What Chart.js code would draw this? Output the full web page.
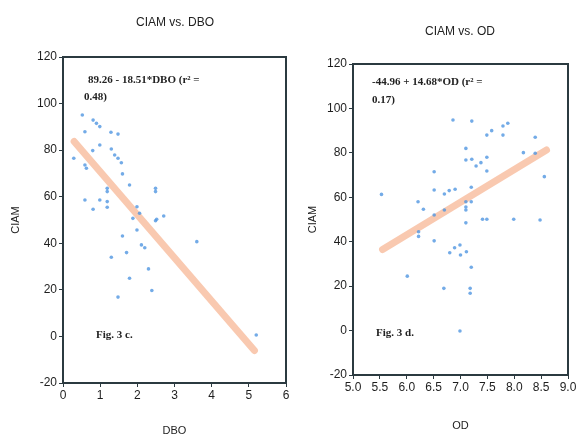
<!DOCTYPE html>
<html>
<head>
<meta charset="utf-8">
<script src="https://cdn.jsdelivr.net/npm/chart.js@4.4.1/dist/chart.umd.min.js"></script>
<style>
  body { margin: 0; background: #fff; }
  #wrap { position: relative; width: 577px; height: 439px; overflow: hidden; }
  canvas { position: absolute; top: 0; }
</style>
</head>
<body>
<div id="wrap">
  <canvas id="dbo" width="290" height="439" style="left:0"></canvas>
  <canvas id="od" width="287" height="439" style="left:290px"></canvas>
</div>
<script>
// CIAM against DBO
var dboX = [0.52, 0.81, 0.90, 0.99, 0.59, 1.29, 1.48, 0.99, 0.80, 1.30, 1.39, 1.48, 1.57, 0.29, 0.59,
  0.63, 1.60, 1.79, 1.19, 1.19, 2.49, 2.49, 0.59, 0.99, 1.19, 1.19, 0.81, 1.99, 2.06, 1.88, 2.49, 2.52,
  2.71, 1.99, 1.60, 2.11, 2.20, 3.60, 1.30, 1.71, 2.30, 1.79, 2.39, 1.48, 5.20];
var dboCiam = [95.1, 92.9, 91.5, 90.1, 87.9, 87.7, 86.9, 82.2, 79.8, 80.5, 77.9, 76.5, 74.6, 76.5, 73.6,
  72.2, 69.8, 65.0, 63.6, 62.2, 63.6, 62.2, 58.6, 58.6, 57.9, 55.5, 54.6, 55.7, 52.9, 50.7, 49.7, 50.3,
  51.7, 45.7, 43.1, 39.3, 38.1, 40.7, 34.0, 36.0, 29.0, 25.0, 19.7, 16.9, 0.6];

// CIAM against OD
var odX = [6.86, 7.21, 7.49, 7.58, 7.79, 7.79, 7.88, 8.39, 7.10, 8.17, 8.39, 7.10, 7.21, 7.29, 7.38,
  7.49, 7.49, 6.51, 8.56, 5.53, 6.51, 6.70, 6.79, 6.90, 7.20, 6.21, 6.31, 6.51, 6.70, 7.10, 7.10, 7.10,
  7.20, 7.10, 7.41, 7.49, 7.99, 8.48, 6.22, 6.22, 6.51, 6.80, 6.89, 6.99, 7.00, 7.11, 7.20, 6.01, 6.69,
  7.18, 7.18, 6.99];
var odCiam = [94.8, 94.3, 88.0, 90.0, 88.0, 92.1, 93.3, 87.0, 82.0, 80.1, 79.8, 76.8, 77.1, 74.1, 75.6,
  78.0, 71.8, 71.5, 69.3, 61.3, 63.3, 61.5, 63.0, 63.6, 64.5, 58.0, 54.6, 52.0, 54.3, 58.0, 55.6, 54.3,
  58.0, 48.5, 50.1, 50.1, 50.1, 49.8, 44.5, 42.4, 40.4, 35.0, 37.3, 38.5, 34.0, 35.5, 28.5, 24.5, 19.0,
  19.0, 16.8, -0.2];

// fitted lines: intercept, slope, x range
var dboFit = [89.26, -18.51];
var dboFitRange = [0.3, 5.15];
var odFit = [-44.96, 14.68];
var odFitRange = [5.55, 8.6];

var dboTicks = [0, 1, 2, 3, 4, 5, 6];
var odTicks = [5.0, 5.5, 6.0, 6.5, 7.0, 7.5, 8.0, 8.5, 9.0];
var ciamTicks = [-20, 0, 20, 40, 60, 80, 100, 120];

var ink = '#2b3a40';

function fitLine(fit, range) {
  return range.map(function(x) { return { x: x, y: fit[0] + fit[1] * x }; });
}

function points(xs, ys) {
  return xs.map(function(x, i) { return { x: x, y: ys[i] }; });
}

// frame round the plot and free text
var notesPlugin = {
  id: 'notes',
  afterDraw: function(chart, args, opts) {
    var ctx = chart.ctx, a = chart.chartArea;
    ctx.save();
    ctx.strokeStyle = ink;
    ctx.lineWidth = 2;
    ctx.strokeRect(a.left, a.top, a.right - a.left, a.bottom - a.top);
    (opts.items || []).forEach(function(t) {
      ctx.font = t.font;
      ctx.fillStyle = t.color || '#222';
      ctx.textAlign = t.align || 'left';
      ctx.textBaseline = 'middle';
      ctx.fillText(t.text, t.x, t.y);
    });
    ctx.restore();
  }
};

function makeChart(id, cfg) {
  return new Chart(document.getElementById(id), {
    type: 'scatter',
    data: {
      datasets: [{
        data: points(cfg.xs, cfg.ys),
        backgroundColor: 'rgba(80,150,225,0.8)',
        borderWidth: 0,
        pointRadius: 1.8,
        order: 1
      }, {
        type: 'line',
        data: fitLine(cfg.fit, cfg.range),
        borderColor: 'rgba(247,178,142,0.7)',
        borderWidth: 7,
        borderCapStyle: 'round',
        pointRadius: 0,
        order: 2
      }]
    },
    options: {
      responsive: false,
      animation: false,
      layout: { padding: cfg.padding },
      plugins: {
        legend: { display: false },
        tooltip: { enabled: false },
        notes: { items: cfg.notes }
      },
      scales: {
        x: {
          type: 'linear',
          min: cfg.xTicks[0],
          max: cfg.xTicks[cfg.xTicks.length - 1],
          afterBuildTicks: function(s) { s.ticks = cfg.xTicks.map(function(v) { return { value: v }; }); },
          afterFit: function(s) { s.height = cfg.xHeight; s.paddingLeft = 0; s.paddingRight = 0; },
          border: { display: false },
          grid: { drawOnChartArea: false, color: ink, tickLength: 4 },
          ticks: {
            padding: 1,
            color: '#1e1e1e',
            font: { family: 'Liberation Sans', size: 12 },
            maxRotation: 0,
            autoSkip: false,
            callback: cfg.xFormat
          },
          title: {
            display: true,
            text: cfg.xTitle,
            color: '#222',
            font: { family: 'Liberation Sans', size: 11 },
            padding: { top: 0, bottom: cfg.xTitlePad }
          }
        },
        y: {
          min: -20,
          max: 120,
          afterBuildTicks: function(s) { s.ticks = ciamTicks.map(function(v) { return { value: v }; }); },
          afterFit: function(s) { s.width = 63; s.paddingTop = 0; s.paddingBottom = 0; },
          border: { display: false },
          grid: { drawOnChartArea: false, color: ink, tickLength: 4 },
          ticks: {
            padding: 2,
            color: '#1e1e1e',
            font: { family: 'Liberation Sans', size: 12 }
          },
          title: {
            display: true,
            text: 'CIAM',
            color: '#222',
            font: { family: 'Liberation Sans', size: 11 },
            padding: { top: cfg.yTitlePad, bottom: 0 }
          }
        }
      }
    },
    plugins: [notesPlugin]
  });
}

var eqFont = 'bold 11px "Liberation Serif"';
var titleFont = '12px "Liberation Sans"';

makeChart('dbo', {
  xs: dboX, ys: dboCiam, fit: dboFit, range: dboFitRange,
  xTicks: dboTicks, xTitle: 'DBO', xHeight: 56, xTitlePad: 1, yTitlePad: 9,
  xFormat: function(v) { return v; },
  padding: { top: 57, right: 3, bottom: 0, left: 0 },
  notes: [
    { text: 'CIAM vs. DBO', x: 175, y: 23, font: titleFont, align: 'center' },
    { text: '89.26 - 18.51*DBO (r² =', x: 88, y: 80, font: eqFont },
    { text: '0.48)', x: 84, y: 97, font: eqFont },
    { text: 'Fig. 3 c.', x: 96, y: 335, font: eqFont }
  ]
});

makeChart('od', {
  xs: odX, ys: odCiam, fit: odFit, range: odFitRange,
  xTicks: odTicks, xTitle: 'OD', xHeight: 64, xTitlePad: 6, yTitlePad: 16,
  xFormat: function(v) { return Number(v).toFixed(1); },
  padding: { top: 64, right: 9, bottom: 0, left: 0 },
  notes: [
    { text: 'CIAM vs. OD', x: 170, y: 32, font: titleFont, align: 'center' },
    { text: '-44.96 + 14.68*OD (r² =', x: 82, y: 82, font: eqFont },
    { text: '0.17)', x: 82, y: 100, font: eqFont },
    { text: 'Fig. 3 d.', x: 86, y: 333, font: eqFont }
  ]
});
</script>
</body>
</html>
